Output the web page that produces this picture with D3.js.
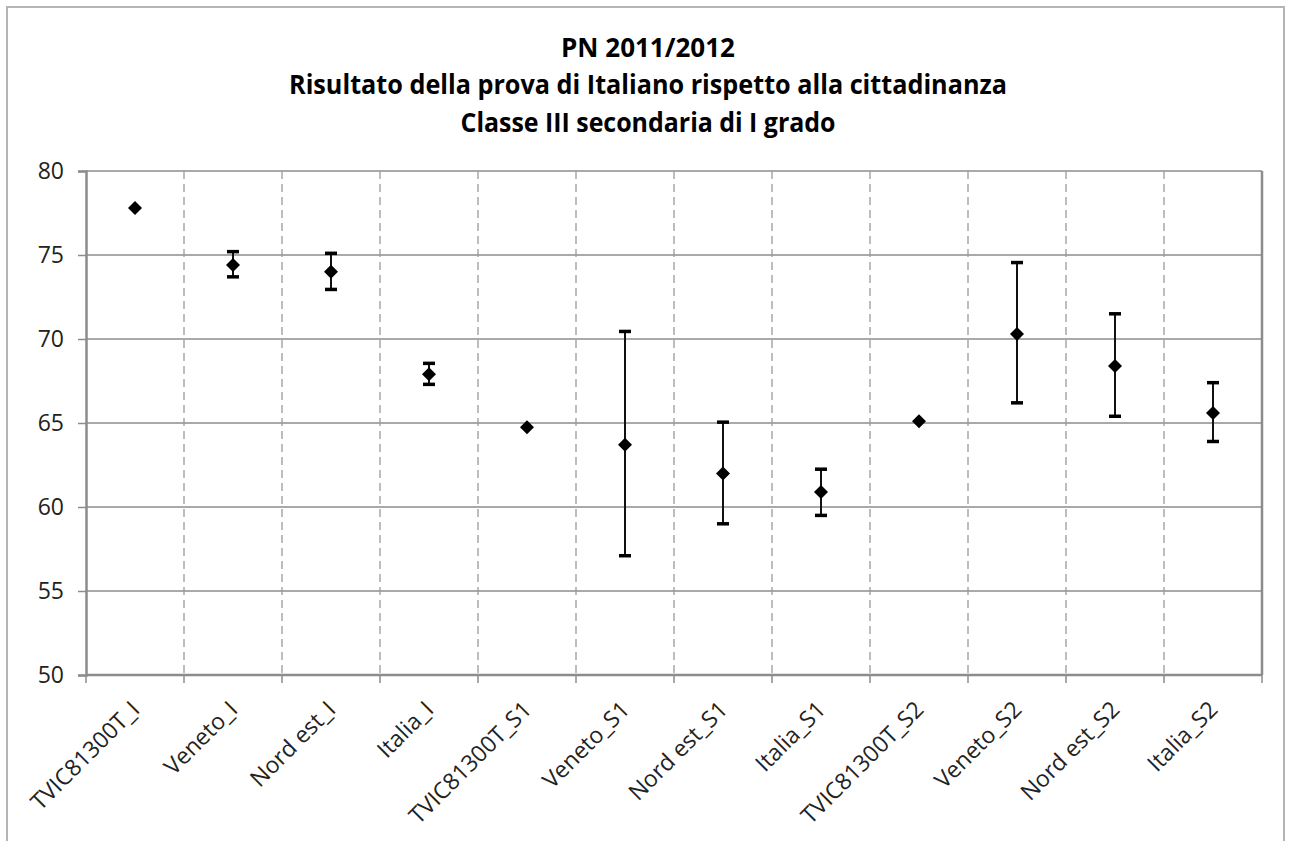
<!DOCTYPE html>
<html>
<head>
<meta charset="utf-8">
<script src="https://cdn.jsdelivr.net/npm/d3@7"></script>
<style>
  body { margin: 0; background: #fff; }
  svg { display: block; }
</style>
</head>
<body>
<div id="chart"></div>
<script>
// Chart data
const categories = ['TVIC81300T_I', 'Veneto_I', 'Nord est_I', 'Italia_I',
    'TVIC81300T_S1', 'Veneto_S1', 'Nord est_S1', 'Italia_S1',
    'TVIC81300T_S2', 'Veneto_S2', 'Nord est_S2', 'Italia_S2'];
const means = [77.8, 74.4, 74.0, 67.9, 64.75, 63.7, 62.0, 60.9, 65.1, 70.3, 68.4, 65.6];
const lower = [null, 73.7, 72.95, 67.3, null, 57.1, 59.0, 59.5, null, 66.2, 65.4, 63.9];
const upper = [null, 75.2, 75.1, 68.55, null, 70.45, 65.05, 62.25, null, 74.55, 71.5, 67.4];
const yTicks = [50, 55, 60, 65, 70, 75, 80];
const titleLines = ['PN 2011/2012',
    'Risultato della prova di Italiano rispetto alla cittadinanza',
    'Classe III secondaria di I grado'];

const width = 1289;
const height = 841;
const margin = { top: 171, right: 27, bottom: 166, left: 86 };
const plotW = width - margin.left - margin.right;
const plotH = height - margin.top - margin.bottom;

const svg = d3.select('#chart')
    .append('svg')
    .attr('width', width)
    .attr('height', height);

// Outer chart frame
svg.append('rect')
    .attr('x', 7)
    .attr('y', 7)
    .attr('width', 1277)
    .attr('height', 860)
    .attr('fill', '#fff')
    .attr('stroke', '#b4b4b4')
    .attr('stroke-width', 2);

// Title: narrow bold look, squeezed to the widths seen in the picture
const titleWidths = [178, 718, 375];
const titleBase = [57, 94, 132];
titleLines.forEach((line, i) => {
    const t = svg.append('text')
        .attr('x', 648)
        .attr('y', titleBase[i])
        .attr('text-anchor', 'middle')
        .attr('font-family', '"Open Sans", sans-serif')
        .attr('font-weight', 'bold')
        .attr('font-size', 26)
        .attr('fill', '#000')
        .text(line);
    const w = t.node().getComputedTextLength();
    if (w > titleWidths[i]) {
        t.attr('textLength', titleWidths[i]).attr('lengthAdjust', 'spacingAndGlyphs');
    }
});

const x = d3.scaleBand()
    .domain(categories)
    .range([0, plotW])
    .padding(0);

const y = d3.scaleLinear()
    .domain([50, 80])
    .range([plotH, 0]);

const g = svg.append('g')
    .attr('transform', `translate(${margin.left},${margin.top})`);

// Horizontal gridlines
g.append('g')
    .selectAll('line')
    .data(yTicks)
    .join('line')
    .attr('x1', 0)
    .attr('x2', plotW)
    .attr('y1', d => y(d))
    .attr('y2', d => y(d))
    .attr('stroke', '#8c8c8c')
    .attr('stroke-width', 1.5);

// Vertical dashed gridlines at category boundaries
const bounds = categories.map(c => x(c)).concat([plotW]);
g.append('g')
    .selectAll('line')
    .data(bounds.slice(1, -1))
    .join('line')
    .attr('x1', d => d)
    .attr('x2', d => d)
    .attr('y1', 0)
    .attr('y2', plotH)
    .attr('stroke', '#9a9a9a')
    .attr('stroke-width', 1.3)
    .attr('stroke-dasharray', '8,5');

// Right border of plot area
g.append('line')
    .attr('x1', plotW)
    .attr('x2', plotW)
    .attr('y1', 0)
    .attr('y2', plotH)
    .attr('stroke', '#8c8c8c')
    .attr('stroke-width', 2.5);

// Y axis
const yAxis = g.append('g')
    .call(d3.axisLeft(y).tickValues(yTicks).tickSize(8).tickPadding(14));
yAxis.select('.domain').attr('stroke', '#8c8c8c').attr('stroke-width', 2.5);
yAxis.selectAll('.tick line').attr('stroke', '#8c8c8c').attr('stroke-width', 1.5);
yAxis.selectAll('.tick text')
    .attr('font-family', '"Open Sans", sans-serif')
    .attr('font-size', 23)
    .attr('fill', '#222');

// X axis: line, ticks at boundaries, rotated labels at centres
g.append('line')
    .attr('x1', 0)
    .attr('x2', plotW)
    .attr('y1', plotH)
    .attr('y2', plotH)
    .attr('stroke', '#8c8c8c')
    .attr('stroke-width', 2.5);

g.append('g')
    .selectAll('line')
    .data(bounds)
    .join('line')
    .attr('x1', d => d)
    .attr('x2', d => d)
    .attr('y1', plotH)
    .attr('y2', plotH + 8)
    .attr('stroke', '#8c8c8c')
    .attr('stroke-width', 1.5);

g.append('g')
    .selectAll('text')
    .data(categories)
    .join('text')
    .attr('transform', d => `translate(${x(d) + x.bandwidth() / 2 + 6},${plotH + 36}) rotate(-45)`)
    .attr('text-anchor', 'end')
    .attr('font-family', '"Open Sans", sans-serif')
    .attr('font-size', 23)
    .attr('fill', '#222')
    .text(d => d);

// Error bars
const bars = categories.map((c, i) => ({ c, lo: lower[i], hi: upper[i] }))
    .filter(d => d.lo !== null);
const cx = c => x(c) + x.bandwidth() / 2;

g.append('g')
    .selectAll('line')
    .data(bars)
    .join('line')
    .attr('x1', d => cx(d.c))
    .attr('x2', d => cx(d.c))
    .attr('y1', d => y(d.lo))
    .attr('y2', d => y(d.hi))
    .attr('stroke', '#111')
    .attr('stroke-width', 2);

const caps = bars.flatMap(d => [{ c: d.c, v: d.lo }, { c: d.c, v: d.hi }]);
g.append('g')
    .selectAll('line')
    .data(caps)
    .join('line')
    .attr('x1', d => cx(d.c) - 6)
    .attr('x2', d => cx(d.c) + 6)
    .attr('y1', d => y(d.v))
    .attr('y2', d => y(d.v))
    .attr('stroke', '#000')
    .attr('stroke-width', 3.5);

// Diamond markers
g.append('g')
    .selectAll('path')
    .data(categories.map((c, i) => ({ c, v: means[i] })))
    .join('path')
    .attr('transform', d => `translate(${cx(d.c)},${y(d.v)})`)
    .attr('d', 'M0,-7L7,0L0,7L-7,0Z')
    .attr('fill', '#000');
</script>
</body>
</html>
